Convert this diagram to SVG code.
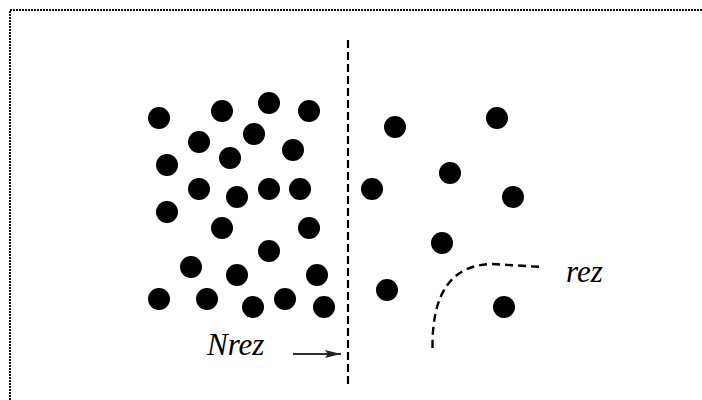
<svg xmlns="http://www.w3.org/2000/svg" width="702" height="400" viewBox="0 0 702 400">
<style>
.dot{fill:#000}
.lbl{font-family:"Liberation Serif","Times New Roman",serif;font-style:italic;font-size:31px;fill:#000}
.frame{stroke:#111;stroke-width:2;stroke-dasharray:2 1;fill:none}
</style>
<defs>
<marker id="ah" viewBox="0 0 16 10" refX="16" refY="5" markerWidth="16" markerHeight="10" markerUnits="userSpaceOnUse" orient="auto">
<path d="M0,1 L16,5 L0,9 L3,5 Z" fill="#222"/>
</marker>
</defs>
<rect width="702" height="400" fill="#fff"/>
<path class="frame" d="M10,400 V10 H702"/>
<g id="dots-left">
<circle class="dot" cx="159" cy="118" r="11"/>
<circle class="dot" cx="222" cy="111" r="11"/>
<circle class="dot" cx="269" cy="103" r="11"/>
<circle class="dot" cx="309" cy="111" r="11"/>
<circle class="dot" cx="199" cy="142" r="11"/>
<circle class="dot" cx="254" cy="134" r="11"/>
<circle class="dot" cx="293" cy="150" r="11"/>
<circle class="dot" cx="167" cy="165" r="11"/>
<circle class="dot" cx="230" cy="158" r="11"/>
<circle class="dot" cx="199" cy="189" r="11"/>
<circle class="dot" cx="237" cy="197" r="11"/>
<circle class="dot" cx="269" cy="189" r="11"/>
<circle class="dot" cx="300" cy="189" r="11"/>
<circle class="dot" cx="167" cy="212" r="11"/>
<circle class="dot" cx="222" cy="228" r="11"/>
<circle class="dot" cx="309" cy="228" r="11"/>
<circle class="dot" cx="269" cy="251" r="11"/>
<circle class="dot" cx="191" cy="267" r="11"/>
<circle class="dot" cx="237" cy="275" r="11"/>
<circle class="dot" cx="317" cy="275" r="11"/>
<circle class="dot" cx="159" cy="299" r="11"/>
<circle class="dot" cx="207" cy="299" r="11"/>
<circle class="dot" cx="253" cy="307" r="11"/>
<circle class="dot" cx="285" cy="299" r="11"/>
<circle class="dot" cx="324" cy="307" r="11"/>
</g>
<g id="dots-right">
<circle class="dot" cx="395" cy="127" r="11"/>
<circle class="dot" cx="497" cy="118" r="11"/>
<circle class="dot" cx="450" cy="173" r="11"/>
<circle class="dot" cx="372" cy="189" r="11"/>
<circle class="dot" cx="513" cy="197" r="11"/>
<circle class="dot" cx="442" cy="243" r="11"/>
<circle class="dot" cx="387" cy="290" r="11"/>
<circle class="dot" cx="504" cy="307" r="11"/>
</g>
<g id="connectors">
<line x1="348" y1="40" x2="348" y2="386" stroke="#000" stroke-width="2.2" stroke-dasharray="8 4"/>
<path d="M432.5,348 C432,292 452,265 492,264 L542,267" fill="none" stroke="#000" stroke-width="2.4" stroke-dasharray="8 5"/>
<line x1="293" y1="354" x2="341" y2="354" stroke="#333" stroke-width="1.8" marker-end="url(#ah)"/>
</g>
<g id="labels">
<text class="lbl" x="207" y="355">Nrez</text>
<text class="lbl" x="566" y="282">rez</text>
</g>
</svg>
